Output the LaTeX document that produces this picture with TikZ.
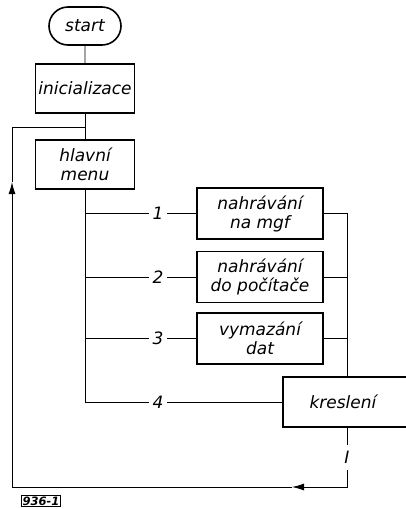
\documentclass[tikz,border=0pt]{standalone}
\usepackage{fontspec}
\setmainfont{DejaVu Sans}
\usetikzlibrary{shapes.misc,arrows.meta}
\tikzset{
  blk/.style   = {rectangle, draw, line width=1.6pt, minimum width=99, minimum height=49,
                  align=center, inner sep=2pt, font=\itshape\fontsize{17}{19}\selectfont},
  opt/.style   = {blk, minimum width=126, minimum height=51},
  term/.style  = {rounded rectangle, draw, line width=1.6pt, minimum width=76, minimum height=38,
                  inner sep=2pt, font=\itshape\fontsize{17}{19}\selectfont},
  fl/.style    = {draw, line width=0.9pt},
  fla/.style   = {fl, -{Latex[length=12pt,width=7pt]}},
  lbl/.style   = {fill=white, inner sep=4pt, font=\itshape\fontsize{17}{19}\selectfont},
  tag/.style   = {draw, line width=1pt, inner sep=1pt, font=\bfseries\itshape\fontsize{11.5}{13}\selectfont},
}

\begin{document}
\begin{tikzpicture}[x=1pt, y=-1pt]
  \useasboundingbox (0,0) rectangle (405,509);

  \node[term] (start) at (85,26)      {start};
  \node[blk]  (init)  at (85,88.5)    {inicializace};
  \node[blk]  (menu)  at (85,164.5)   {hlavní\\menu};
  \node[opt]  (mgf)   at (260,213.5)  {nahrávání\\na mgf};
  \node[opt]  (pc)    at (260,277)    {nahrávání\\do počítače};
  \node[opt]  (del)   at (260,338.5)  {vymazání\\dat};
  \node[blk, minimum width=128, minimum height=50] (kres) at (347,402) {\hspace*{-8pt}kreslení};

  \coordinate (back) at (12,127);
  \coordinate (low)  at (347,487);
  \coordinate (tipA) at (292,487);
  \coordinate (tipB) at (12,182);

  \draw[fl] (start) -- (init);
  \draw[fl] (init) -- (menu);

  % volby z menu
  \draw[fl] (menu.south) |- (kres.west);
  \foreach \b in {mgf,pc,del}
    \draw[fl] (menu.south |- \b.west) -- (\b.west);
  \draw[fl] (mgf.east) -| (kres.north);
  \draw[fl] (pc.east) -- (pc.east -| kres.north);
  \draw[fl] (del.east) -- (del.east -| kres.north);
  \node[lbl] (n1) at (158,213.5) {1};
  \node[lbl] (n2) at (158,277)   {2};
  \node[lbl] (n3) at (158,338.5) {3};
  \node[lbl] (n4) at (158,402)   {4};

  % navrat do menu
  \draw[fla] (kres.south) -- node[lbl, inner sep=6pt]{I} (low) -- (tipA);
  \draw[fla] (tipA) -- (back |- low) -- (tipB);
  \draw[fl] (tipB) -- (back) -- (init.south |- back);

  \node[tag] (fig) at (41,501) {936-1};
\end{tikzpicture}
\end{document}
